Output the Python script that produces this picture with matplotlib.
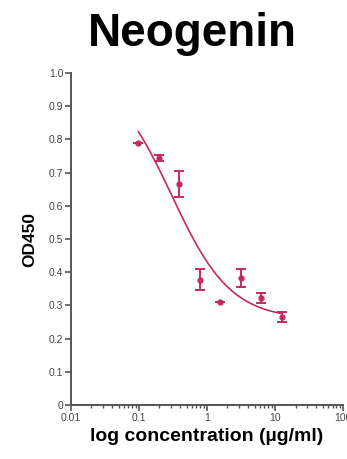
import numpy as np
import matplotlib
matplotlib.use("Agg")
import matplotlib.pyplot as plt
from matplotlib.ticker import LogLocator, FixedLocator, NullFormatter

# ---- data ----
conc = [0.098, 0.195, 0.39, 0.78, 1.56, 3.125, 6.25, 12.5]
od450 = [0.79, 0.744, 0.666, 0.378, 0.31, 0.382, 0.322, 0.265]
od_err = [0.0, 0.010, 0.040, 0.033, 0.0, 0.028, 0.015, 0.015]

x_ticks = [0.01, 0.1, 1, 10, 100]
x_ticklabels = ["0.01", "0.1", "1", "10", "100"]
y_ticks = [0, 0.1, 0.2, 0.3, 0.4, 0.5, 0.6, 0.7, 0.8, 0.9, 1.0]
y_ticklabels = ["0", "0.1", "0.2", "0.3", "0.4", "0.5", "0.6", "0.7", "0.8", "0.9", "1.0"]

title = "Neogenin"
xlabel = "log concentration (µg/ml)"
ylabel = "OD450"

color = "#c62a5c"
hill_slope = 1.0  # standard-slope logistic model


# ---- 3-parameter logistic fit, fixed Hill slope (Levenberg-Marquardt, numpy only) ----
def flog(x, p):
    bottom, top, logec = p
    return bottom + (top - bottom) / (1.0 + 10 ** ((np.log10(x) - logec) * hill_slope))


def fit(x, y, p0):
    p = np.array(p0, float)
    lam = 1e-2
    for _ in range(500):
        r = y - flog(x, p)
        J = np.empty((len(x), len(p)))
        for j in range(len(p)):
            dp = np.zeros_like(p)
            dp[j] = 1e-6
            J[:, j] = (flog(x, p + dp) - flog(x, p - dp)) / 2e-6
        A = J.T @ J
        g = J.T @ r
        step = np.linalg.solve(A + lam * np.diag(np.diag(A)), g)
        pn = p + step
        if np.sum((y - flog(x, pn)) ** 2) < np.sum(r ** 2):
            p = pn
            lam *= 0.5
        else:
            lam *= 4
    return p


xa = np.array(conc)
ya = np.array(od450)
params = fit(xa, ya, [0.25, 0.9, np.log10(0.5)])

fig = plt.figure(figsize=(3.47, 4.59), dpi=100)
plt.rcParams["font.family"] = ["Liberation Sans", "DejaVu Sans"]
ax = fig.add_axes([0.2046, 0.1176, 0.784, 0.7233])

xc = np.logspace(np.log10(conc[0]), np.log10(conc[-1]), 200)
ax.plot(xc, flog(xc, params), color=color, lw=1.2, zorder=2)
ax.errorbar(conc, od450, yerr=od_err, fmt="o", color=color, ms=3.5,
            elinewidth=1.4, capsize=3.5, capthick=1.4, zorder=3)

ax.set_xscale("log")
ax.set_xlim(0.01, 100)
ax.set_ylim(0, 1.0)
ax.xaxis.set_major_locator(FixedLocator(x_ticks))
ax.set_xticklabels(x_ticklabels)
ax.xaxis.set_minor_locator(LogLocator(base=10, subs=np.arange(2, 10)))
ax.xaxis.set_minor_formatter(NullFormatter())
ax.set_yticks(y_ticks)
ax.set_yticklabels(y_ticklabels)

for s in ["top", "right"]:
    ax.spines[s].set_visible(False)
for s in ["left", "bottom"]:
    ax.spines[s].set_linewidth(1.4)
    ax.spines[s].set_color("#555555")

ax.tick_params(axis="both", which="major", direction="out", length=4, width=1.2,
               color="#555555", labelsize=7.5, labelcolor="#444444", pad=1.5)
ax.tick_params(axis="x", which="minor", direction="out", length=2.5, width=1.0,
               color="#555555")

ax.set_xlabel(xlabel, fontsize=14, fontweight="bold", labelpad=4)
ax.set_ylabel(ylabel, fontsize=12.5, fontweight="bold", labelpad=8)
fig.text(0.553, 0.9, title, fontsize=33, fontweight="bold", ha="center", va="baseline")

fig.savefig("out.png", dpi=100)
